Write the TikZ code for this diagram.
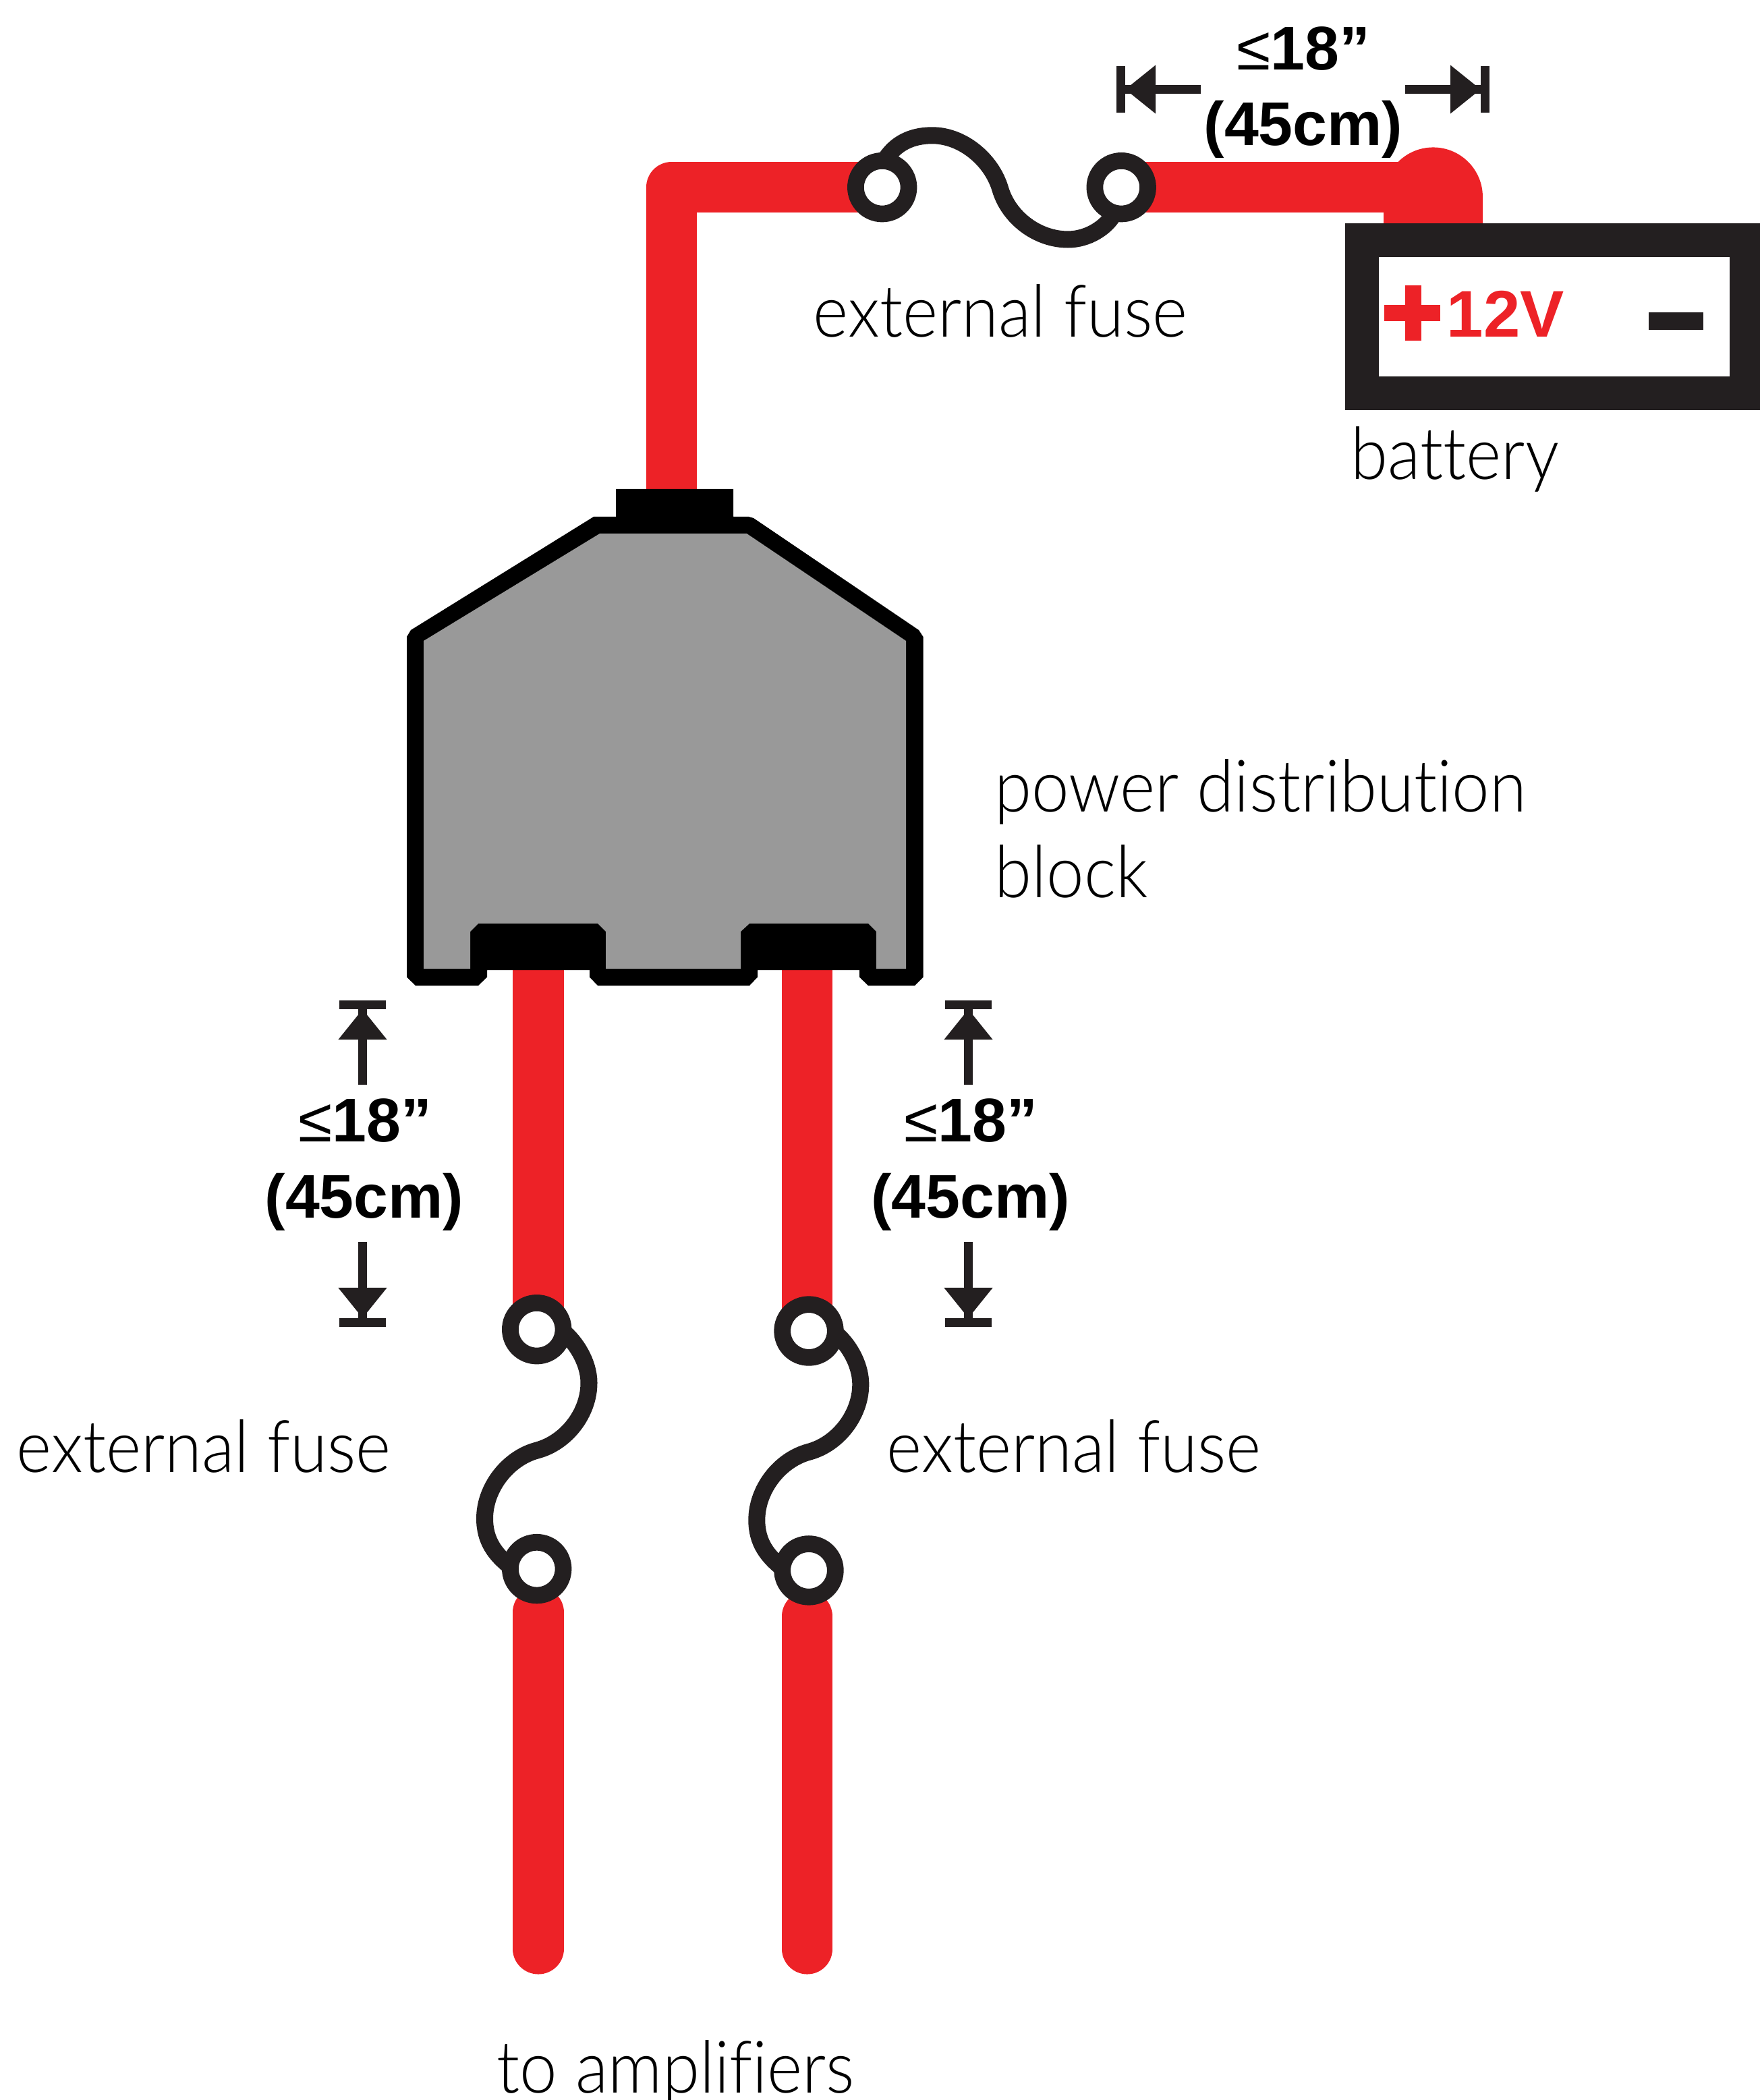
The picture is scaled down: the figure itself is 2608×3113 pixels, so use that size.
\documentclass[tikz,border=0pt]{standalone}
\usepackage{fontspec}
\setmainfont{Liberation Sans}
\newfontfamily\lightfont[Ligatures=NoCommon,FakeStretch=0.93]{Lato Light}
\usetikzlibrary{arrows.meta,positioning,backgrounds}
\definecolor{wirered}{HTML}{ED2227}
\definecolor{inkblack}{HTML}{231F20}
\definecolor{blockgray}{HTML}{999999}
\tikzstyle{wire}=[draw=wirered,line width=0.75cm,line cap=round,line join=round]
\tikzstyle{stub}=[draw=wirered,line width=1.47cm,line cap=round]
\tikzstyle{fusering}=[circle,draw=inkblack,fill=white,line width=0.247cm,minimum size=0.786cm,inner sep=0pt,outer sep=0pt]
\tikzstyle{fuselink}=[draw=inkblack,line width=0.25cm]
\tikzstyle{dimline}=[draw=inkblack,line width=0.13cm,-{Triangle[length=4.5mm,width=6.9mm,sep=0pt]Rectangle[length=1.3mm,width=6.9mm]},inkblack]
\tikzstyle{thinlabel}=[inner sep=0pt,anchor=base west,text=black,font=\lightfont\fontsize{30.5}{36}\selectfont]
\tikzstyle{dimlabel}=[inner sep=0pt,anchor=base,text=black,font=\bfseries\fontsize{26}{30}\selectfont]

\begin{document}
\begin{tikzpicture}[x=0.01cm,y=-0.01cm]
            \useasboundingbox (0,0) rectangle (2608,3113);

            % FUSE RINGS

            \node[fusering] (f1) at (1307.7,277.7) {};
            \node[fusering,right of=f1,node distance=3.543cm] (f2) {};
            \node[fusering] (f3) at (795.7,1970.7) {};
            \node[fusering,below of=f3,node distance=3.547cm] (f4) {};
            \node[fusering] (f5) at (1199,1973) {};
            \node[fusering,below of=f5,node distance=3.547cm] (f6) {};

            % BATTERY PART

            \node[rectangle,draw=inkblack,fill=white,line width=0.5cm,minimum width=5.7cm,minimum height=2.27cm,inner sep=0pt,outer sep=0pt] (batt) at (2304,469.5) {};
            \coordinate (battpos) at (2124.5,331);
            \coordinate (hump) at (2124.5,292);
            \node[rectangle,fill=wirered,minimum width=0.83cm,minimum height=0.24cm,inner sep=0pt] (plush) at (2093.5,464) {};
            \node[rectangle,fill=wirered,minimum width=0.24cm,minimum height=0.82cm,inner sep=0pt] (plusv) at (2095,464) {};
            \node[inner sep=0pt,anchor=base west,text=wirered,font=\bfseries\fontsize{27.8}{30}\selectfont] (volt) at (2144,500) {12V};
            \node[rectangle,fill=inkblack,minimum width=0.81cm,minimum height=0.26cm,inner sep=0pt] (minus) at (2484.5,476) {};

            % POWER DISTRIBUTION BLOCK

            \fill[black] (913,725) -- (1087,725) -- (1087,766) -- (1110,766) -- (1117,768) -- (1362,934) -- (1368.5,944)
                -- (1368.5,1448.5) -- (1356,1461) -- (1287,1461) -- (1274,1448.5) -- (1274,1438) -- (1123,1438) -- (1123,1448.5)
                -- (1111,1461) -- (886,1461) -- (874,1448.5) -- (874,1438) -- (722,1438) -- (722,1448.5) -- (709,1461)
                -- (616,1461) -- (603,1448.5) -- (603,944) -- (609,934) -- (880,766) -- (913,766) -- cycle;
            \fill[blockgray] (889,791) -- (1107,791) -- (1343,950) -- (1343,1436) -- (1299,1436) -- (1299,1381) -- (1287,1369)
                -- (1111,1369) -- (1098,1381) -- (1098,1436) -- (898,1436) -- (898,1381) -- (886,1369) -- (709,1369)
                -- (697,1381) -- (697,1436) -- (628,1436) -- (628,950) -- cycle;
            \coordinate (pdbtop) at (995.5,725);
            \coordinate (pdbleft) at (798,1438);
            \coordinate (pdbright) at (1196.8,1438);

            % WIRES

            \coordinate (tailLs) at (798,2390);
            \coordinate (tailLe) at (798,2889);
            \coordinate (tailRs) at (1196.8,2396);
            \coordinate (tailRe) at (1196.8,2889);

            \begin{pgfonlayer}{background}
            \path[wire] (pdbtop) |- (f1.center);
            \path[wire] (f2.center) -| (battpos);
            \path[stub] (hump) -- (battpos);
            \path[wire] (pdbleft) -- (pdbleft |- f3.center);
            \path[wire] (pdbright) -- (pdbright |- f5.center);
            \path[wire] (tailLs) -- (tailLe);
            \path[wire] (tailRs) -- (tailRe);
            \end{pgfonlayer}

            % FUSE LINKS

            \path[fuselink] (f1.85) .. controls (1327,212) and (1352,200.8) .. (1382,200.8)
                .. controls (1427,200.8) and (1470,237) .. (1482.7,280)
                .. controls (1495.3,323) and (1538,355) .. (1583,355)
                .. controls (1612,355) and (1640,338) .. (f2.255);
            \path[fuselink] (f3.-5) .. controls (852,1988) and (873,2018) .. (873,2050)
                .. controls (873,2095) and (839.5,2138.4) .. (796,2150)
                .. controls (752.5,2161.6) and (718.5,2206) .. (718.5,2251)
                .. controls (718.5,2285) and (735,2305) .. (f4.175);
            \path[fuselink] (f5.-5) .. controls (1255.3,1990) and (1275.8,2020) .. (1275.8,2052.3)
                .. controls (1275.8,2097) and (1242.5,2140.7) .. (1199,2152.3)
                .. controls (1155.5,2164) and (1121.8,2208) .. (1121.8,2253.3)
                .. controls (1121.8,2287) and (1138,2307) .. (f6.175);

            % LENGTH MARKS

            \node[dimlabel] (topmax) at (1932,104) {{\mdseries ≤}18”};
            \node[dimlabel] (topcm) at (1932,216) {(45cm)};
            \coordinate (topLs) at (1780,132.5);
            \coordinate (topLe) at (1655,132.5);
            \coordinate (topRs) at (2083,132.5);
            \coordinate (topRe) at (2208,132.5);
            \path[dimline] (topLs) -- (topLe);
            \path[dimline] (topRs) -- (topRe);

            \node[dimlabel] (leftmax) at (541,1692) {{\mdseries ≤}18”};
            \node[dimlabel] (leftcm) at (540,1805) {(45cm)};
            \coordinate (leftUs) at (537.5,1607.5);
            \coordinate (leftUe) at (537.5,1483);
            \coordinate (leftDs) at (537.5,1841);
            \coordinate (leftDe) at (537.5,1967);
            \path[dimline] (leftUs) -- (leftUe);
            \path[dimline] (leftDs) -- (leftDe);

            \node[dimlabel] (rightmax) at (1439,1692) {{\mdseries ≤}18”};
            \node[dimlabel] (rightcm) at (1438.5,1805) {(45cm)};
            \coordinate (rightUs) at (1435.5,1607.5);
            \coordinate (rightUe) at (1435.5,1483);
            \coordinate (rightDs) at (1435.5,1841);
            \coordinate (rightDe) at (1435.5,1967);
            \path[dimline] (rightUs) -- (rightUe);
            \path[dimline] (rightDs) -- (rightDe);

            % LABELS

            \node[thinlabel] (fusetop) at (1205,500) {external fuse};
            \node[thinlabel] (battlabel) at (2002,711) {battery};
            \node[thinlabel] (pdblabel) at (1474,1203) {power distribution};
            \node[thinlabel] (pdblabelb) at (1474,1330) {block};
            \node[thinlabel] (fuseleft) at (24,2182) {external fuse};
            \node[thinlabel] (fuseright) at (1314,2182) {external fuse};
            \node[thinlabel] (ampslabel) at (736,3102) {to amplifiers};

\end{tikzpicture}
\end{document}
